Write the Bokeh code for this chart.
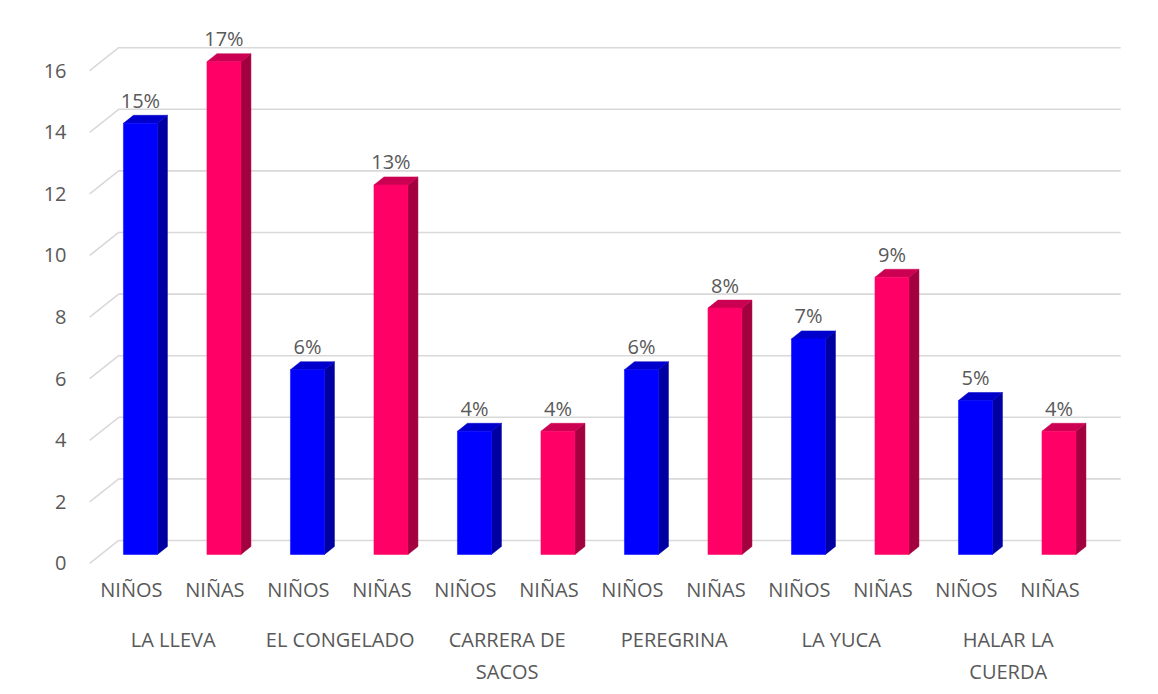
from bokeh.plotting import figure
from bokeh.models import LinearAxis, FixedTicker, Range1d, ColumnDataSource
from bokeh.core.properties import value
from bokeh.embed import file_html
from bokeh.resources import INLINE

# ---- data ----
groups = ["LA LLEVA", "EL CONGELADO", "CARRERA DE\nSACOS", "PEREGRINA", "LA YUCA", "HALAR LA\nCUERDA"]
series = ["NIÑOS", "NIÑAS"]
ninos = [14, 6, 4, 6, 7, 5]
ninas = [16, 12, 4, 8, 9, 4]
ninos_pct = ["15%", "6%", "4%", "6%", "7%", "5%"]
ninas_pct = ["17%", "13%", "4%", "8%", "9%", "4%"]
y_ticks = [0, 2, 4, 6, 8, 10, 12, 14, 16]

# ---- geometry (pixel constants converted to data units) ----
SLOT_PX = 83.5
UNIT_PX = 30.8
FRONT_DX = 9 / SLOT_PX      # bar front plane shift (depth)
FRONT_DY = 9 / UNIT_PX
HALF_W = 17 / SLOT_PX
SIDE_DX = 10 / SLOT_PX      # bar depth
SIDE_DY = 8 / UNIT_PX
BACK_DX = 29 / SLOT_PX      # back wall shift
BACK_DY = 23 / UNIT_PX
GRID_END = 12 + BACK_DX
LABEL_GAP = 15 / UNIT_PX

FONT = "Open Sans"
FSIZE = "20px"
TXT = "#595959"

colors = {
    "NIÑOS": ("#0000FF", "#0000A2", "#0000CC"),
    "NIÑAS": ("#FF0066", "#A3003F", "#CC0052"),
}

# build per-slot arrays
xs_c, vals, pcts, front_c, side_c, top_c, slot_names = [], [], [], [], [], [], []
for g in range(len(groups)):
    for s, (vl, pl) in enumerate(((ninos, ninos_pct), (ninas, ninas_pct))):
        i = 2 * g + s
        xs_c.append(i + 0.5)
        vals.append(vl[g])
        pcts.append(pl[g])
        fc, sc, tc = colors[series[s]]
        front_c.append(fc); side_c.append(sc); top_c.append(tc)
        slot_names.append(series[s])

left = [x + FRONT_DX - HALF_W for x in xs_c]
right = [x + FRONT_DX + HALF_W for x in xs_c]
bottom = [FRONT_DY for _ in xs_c]
top = [v + FRONT_DY for v in vals]

front_src = ColumnDataSource(dict(left=left, right=right, bottom=bottom, top=top, color=front_c))
side_src = ColumnDataSource(dict(
    xs=[[r, r + SIDE_DX, r + SIDE_DX, r] for r in right],
    ys=[[b, b + SIDE_DY, t + SIDE_DY, t] for b, t in zip(bottom, top)],
    color=side_c))
top_src = ColumnDataSource(dict(
    xs=[[l, r, r + SIDE_DX, l + SIDE_DX] for l, r in zip(left, right)],
    ys=[[t, t, t + SIDE_DY, t + SIDE_DY] for t in top],
    color=top_c))
lab_src = ColumnDataSource(dict(
    x=[x + FRONT_DX for x in xs_c],
    y=[t + SIDE_DY + LABEL_GAP for t in top],
    text=pcts))

p = figure(width=1158, height=694, output_backend="svg", toolbar_location=None,
           x_range=Range1d(-0.110, 12.68), y_range=Range1d(-0.39, 17.63),
           x_axis_location=None, min_border_left=80, min_border_right=10,
           min_border_top=20, min_border_bottom=119)
p.outline_line_color = None
p.grid.visible = False
p.background_fill_color = "white"
p.border_fill_color = "white"

# gridlines: side wall diagonal + back wall horizontal
gx = [[0, BACK_DX, GRID_END] for _ in y_ticks]
gy = [[t, t + BACK_DY, t + BACK_DY] for t in y_ticks]
p.multi_line(gx, gy, line_color="#D9D9D9", line_width=1.6)

p.patches("xs", "ys", source=side_src, fill_color="color", line_color="color", line_width=0.5)
p.patches("xs", "ys", source=top_src, fill_color="color", line_color="color", line_width=0.5)
p.quad(left="left", right="right", bottom="bottom", top="top", source=front_src,
       fill_color="color", line_color="color", line_width=0.5)

p.text(x="x", y="y", text="text", source=lab_src, text_align="center",
       text_baseline="alphabetic", text_font=value(FONT),
       text_font_size=FSIZE, text_color=TXT)

def style_axis(ax, standoff):
    ax.axis_line_color = None
    ax.major_tick_line_color = None
    ax.minor_tick_line_color = None
    ax.major_tick_out = 0
    ax.major_tick_in = 0
    ax.minor_tick_out = 0
    ax.minor_tick_in = 0
    ax.major_label_standoff = standoff
    ax.major_label_text_font = FONT
    ax.major_label_text_font_size = FSIZE
    ax.major_label_text_color = TXT

# y axis
ya = p.yaxis[0]
ya.ticker = FixedTicker(ticks=y_ticks)
style_axis(ya, 14)

ax1 = LinearAxis(ticker=FixedTicker(ticks=xs_c),
                 major_label_overrides={x: n for x, n in zip(xs_c, slot_names)})
style_axis(ax1, 0)
ax1.major_label_orientation = "horizontal"
ax2 = LinearAxis(ticker=FixedTicker(ticks=[2 * g + 1.0 for g in range(len(groups))]),
                 major_label_overrides={2 * g + 1.0: groups[g] for g in range(len(groups))})
style_axis(ax2, 20)
ax2.major_label_orientation = "horizontal"
ax2.major_label_text_line_height = 1.2
p.add_layout(ax1, "below")
p.add_layout(ax2, "below")

open("out.html", "w").write(file_html(p, INLINE))
